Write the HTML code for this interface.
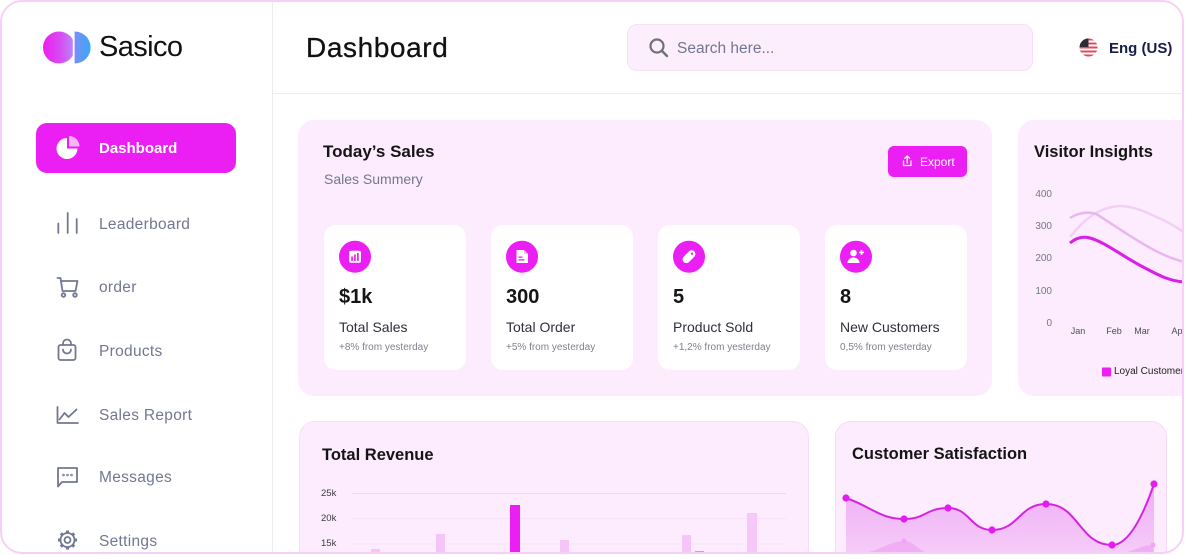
<!DOCTYPE html>
<html><head><meta charset="utf-8">
<style>
*{margin:0;padding:0;box-sizing:border-box}
html,body{width:1185px;height:555px;background:#fff;overflow:hidden}
body{font-family:"Liberation Sans",sans-serif;position:relative}
#frame{position:absolute;left:0;top:0;width:1184px;height:554px;border-radius:22px;overflow:hidden;background:#fff}
#border{position:absolute;left:0;top:0;width:1184px;height:554px;border-radius:22px;border:2px solid #f6d0f8;pointer-events:none;z-index:10}
.t{position:absolute;white-space:nowrap;z-index:5}
.card{position:absolute;background:#fcecfd;border-radius:16px}
.stat{position:absolute;background:#fff;border-radius:12px;top:225px;width:142px;height:145px}
.nav{font-size:15.5px;line-height:15.5px;color:#737791;left:99px;letter-spacing:0.3px}
.val{font-size:20px;line-height:20px;font-weight:bold;color:#151515;top:287.4px}
.lab{font-size:14px;line-height:14px;color:#2f2f3d;top:319.8px}
.sub{font-size:10px;line-height:10px;color:#808092;top:343.2px}
.h{font-size:16.5px;line-height:16.5px;font-weight:bold;color:#151515}
.yl{font-size:10px;line-height:10px;color:#737791;width:30px;text-align:right;left:1022px}
.xl{font-size:9px;line-height:9px;color:#464e5f;width:30px;text-align:center}
.rl{font-size:9.5px;line-height:9.5px;color:#3a3a48;left:321px}
</style></head>
<body>
<div id="frame">
  <div style="position:absolute;left:272px;top:0;width:1px;height:554px;background:#ebebf0"></div>
  <div style="position:absolute;left:272px;top:93px;width:912px;height:1px;background:#ededf2"></div>

  <div style="position:absolute;left:627px;top:24px;width:406px;height:47px;border-radius:10px;background:#fceefd;border:1px solid #f7e0f9"></div>

  <div style="position:absolute;left:36px;top:123px;width:200px;height:50px;border-radius:11px;background:#eb1ef4"></div>

  <div class="card" style="left:298px;top:120px;width:694px;height:276px"></div>
  <div class="stat" style="left:324px"></div>
  <div class="stat" style="left:491px"></div>
  <div class="stat" style="left:658px"></div>
  <div class="stat" style="left:825px"></div>
  <div class="card" style="left:1018px;top:120px;width:166px;height:276px;border-radius:16px 0 0 16px"></div>
  <div class="card" style="left:299px;top:421px;width:510px;height:133px;border:1px solid #f8e0fa;border-bottom:none;border-radius:16px 16px 0 0"></div>
  <div class="card" style="left:835px;top:421px;width:332px;height:133px;border:1px solid #f6dbf8;border-bottom:none;border-radius:16px 16px 0 0"></div>

  <div style="position:absolute;left:888px;top:146px;width:79px;height:31px;border-radius:6px;background:#eb1ef4"></div>

  <svg width="1184" height="554" style="position:absolute;left:0;top:0;z-index:3" xmlns="http://www.w3.org/2000/svg">
    <defs>
      <linearGradient id="lg1" x1="0" x2="1" y1="0" y2="0"><stop offset="0" stop-color="#ec1ef0"/><stop offset="0.55" stop-color="#d84cf2"/><stop offset="1" stop-color="#b48ef7"/></linearGradient>
      <linearGradient id="lg2" x1="0" x2="1" y1="0" y2="0"><stop offset="0" stop-color="#7a8df8"/><stop offset="1" stop-color="#3aa9f6"/></linearGradient>
      <linearGradient id="ga" x1="0" x2="0" y1="0" y2="1"><stop offset="0" stop-color="#eea6f4" stop-opacity="0.9"/><stop offset="1" stop-color="#f5c8f8" stop-opacity="0.9"/></linearGradient>
      <clipPath id="fc"><circle cx="1088.5" cy="47.5" r="9"/></clipPath>
    </defs>

    <circle cx="59" cy="47.5" r="16" fill="url(#lg1)"/>
    <rect x="72.8" y="30" width="1.8" height="35" fill="#fff"/>
    <path d="M74.6,31.5 A16,16 0 0 1 74.6,63.5 Z" fill="url(#lg2)"/>

    <circle cx="657" cy="46" r="6.5" fill="none" stroke="#6f6f80" stroke-width="2.2"/>
    <line x1="662" y1="51" x2="667" y2="56" stroke="#6f6f80" stroke-width="2.4" stroke-linecap="round"/>

    <g clip-path="url(#fc)">
      <rect x="1079" y="38" width="19" height="19" fill="#fff"/>
      <rect x="1079" y="38.5" width="19" height="2" fill="#e04a5a"/>
      <rect x="1079" y="42.5" width="19" height="2" fill="#e04a5a"/>
      <rect x="1079" y="46.5" width="19" height="2" fill="#e04a5a"/>
      <rect x="1079" y="50.5" width="19" height="2" fill="#e04a5a"/>
      <rect x="1079" y="54.5" width="19" height="2" fill="#e04a5a"/>
      <rect x="1079" y="38" width="9.5" height="9" fill="#2b2b35"/>
    </g>

    <path d="M67,148.5 L67,138 A10.5,10.5 0 1 0 77.5,148.5 Z" fill="#fff"/>
    <path d="M69,146.5 L69,136 A10.5,10.5 0 0 1 79.5,146.5 Z" fill="#f7b6fa"/>

    <g fill="none" stroke="#737791" stroke-width="1.8" stroke-linecap="round" stroke-linejoin="round">
      <line x1="58.3" y1="223.5" x2="58.3" y2="233"/>
      <line x1="67.7" y1="213" x2="67.7" y2="233"/>
      <line x1="76.7" y1="219" x2="76.7" y2="233"/>

      <path d="M57.5,278 H60.5 L62.5,291 H75.5 L77.5,281 H61"/>
      <circle cx="63.5" cy="295" r="1.8"/>
      <circle cx="75" cy="295" r="1.8"/>

      <rect x="58.5" y="345" width="17" height="15" rx="2"/>
      <path d="M63,345 V343.5 A4,4 0 0 1 71,343.5 V345"/>
      <path d="M63,349.5 A4,4 0 0 0 71,349.5"/>

      <path d="M57.5,407 V423 H78"/>
      <path d="M59.5,419.5 L64.5,413 L68.5,417 L76.5,409.5"/>

      <path d="M58,468 H77 V482 H62 L58,486.5 Z"/>
      <circle cx="63.5" cy="475" r="0.4" fill="#737791"/>
      <circle cx="67.5" cy="475" r="0.4" fill="#737791"/>
      <circle cx="71.5" cy="475" r="0.4" fill="#737791"/>

      <circle cx="67.5" cy="540" r="3"/>
      <circle cx="67.5" cy="540" r="7"/>
    </g>
    <g stroke="#737791" stroke-width="3" stroke-linecap="butt">
      <line x1="67.5" y1="530.5" x2="67.5" y2="533"/>
      <line x1="67.5" y1="547" x2="67.5" y2="549.5"/>
      <line x1="58" y1="540" x2="60.5" y2="540"/>
      <line x1="74.5" y1="540" x2="77" y2="540"/>
      <line x1="60.8" y1="533.3" x2="62.5" y2="535"/>
      <line x1="72.5" y1="545" x2="74.2" y2="546.7"/>
      <line x1="74.2" y1="533.3" x2="72.5" y2="535"/>
      <line x1="62.5" y1="545" x2="60.8" y2="546.7"/>
    </g>

    <g fill="none" stroke="#fff" stroke-width="1.3" stroke-linecap="round" stroke-linejoin="round">
      <path d="M903.5,161 V165.5 H911 V161"/>
      <path d="M907.2,163 V156 M904.8,158.3 L907.2,156 L909.6,158.3"/>
    </g>

    <circle cx="355" cy="256.7" r="16" fill="#eb1ef4"/>
    <rect x="349" y="250.7" width="12" height="12" rx="2" fill="#fff"/>
    <rect x="351.2" y="256.5" width="1.7" height="4.5" fill="#eb1ef4"/>
    <rect x="354.1" y="254.5" width="1.7" height="6.5" fill="#eb1ef4"/>
    <rect x="357" y="253" width="1.7" height="8" fill="#eb1ef4"/>

    <circle cx="522" cy="256.7" r="16" fill="#eb1ef4"/>
    <path d="M516.5,250 H524 L528,254 V263 H516.5 Z" fill="#fff"/>
    <path d="M524,250 V254 H528" fill="#f7b6fa"/>
    <rect x="518.5" y="256.5" width="4" height="1.3" fill="#eb1ef4"/>
    <rect x="518.5" y="259.2" width="6" height="1.3" fill="#eb1ef4"/>

    <circle cx="689" cy="256.7" r="16" fill="#eb1ef4"/>
    <rect x="-7.5" y="-3.8" width="15" height="7.6" rx="3.8" fill="#fff" transform="translate(689,256.7) rotate(-45)"/>
    <circle cx="692" cy="253.7" r="1.2" fill="#eb1ef4"/>

    <circle cx="856" cy="256.7" r="16" fill="#eb1ef4"/>
    <circle cx="853.5" cy="253" r="3.3" fill="#fff"/>
    <path d="M847.5,263 A6,5.5 0 0 1 859.5,263 Z" fill="#fff"/>
    <path d="M861.5,250 V255 M859,252.5 H864" stroke="#fff" stroke-width="1.6"/>

    <path d="M1070,237 C1085,218 1100,207 1120,206 C1135,206 1150,214 1165,221 C1173,225 1179,229 1184,232" fill="none" stroke="#f2cff5" stroke-width="2.5"/>
    <path d="M1070,218 C1078,213 1088,211 1096,214 C1110,222 1135,241 1160,253 C1170,258 1177,260 1184,262" fill="none" stroke="#ebb5f1" stroke-width="2.5"/>
    <path d="M1070,243 C1076,238 1082,236 1090,238 C1105,242 1125,258 1145,268 C1160,276 1170,281 1184,282" fill="none" stroke="#d91ee6" stroke-width="3"/>
    <rect x="1102" y="367.5" width="9" height="9" rx="1" fill="#eb1ef4"/>

    <line x1="352" y1="493.5" x2="786" y2="493.5" stroke="#f3d6f5" stroke-width="1"/>
    <line x1="352" y1="518.5" x2="786" y2="518.5" stroke="#f8e2f9" stroke-width="1"/>
    <line x1="352" y1="544" x2="786" y2="544" stroke="#f8e2f9" stroke-width="1"/>
    <rect x="371" y="549" width="9" height="5" fill="#f5c4f8"/>
    <rect x="436" y="534" width="9" height="20" fill="#f5c4f8"/>
    <rect x="510" y="505" width="10" height="49" fill="#eb1ef4"/>
    <rect x="560" y="540" width="9" height="14" fill="#f5c4f8"/>
    <rect x="682" y="535" width="9" height="19" fill="#f5c4f8"/>
    <rect x="695" y="551.5" width="9" height="2.5" fill="#eb1ef4"/>
    <rect x="747" y="513" width="10" height="41" fill="#f5c8f8"/>

    <path d="M846,498 C870,506 880,519 904,519 C926,519 926,508 948,508 C970,508 970,530 992,530 C1019,530 1019,504 1046,504 C1079,504 1079,545 1112,545 C1130,545 1145,510 1154,484 L1154,554 L846,554 Z" fill="url(#ga)"/>
    <path d="M846,554 L860,554 C880,551 890,541 904,541 C914,541 918,551 930,554 Z" fill="#eea4f4" opacity="0.7"/>
    <path d="M1120,554 C1135,551 1140,545 1153,545 L1154,554 Z" fill="#eea4f4" opacity="0.7"/>
    <circle cx="904" cy="541" r="2.5" fill="#f0a6f4"/>
    <circle cx="1153" cy="545" r="2.5" fill="#f0a6f4"/>
    <path d="M846,498 C870,506 880,519 904,519 C926,519 926,508 948,508 C970,508 970,530 992,530 C1019,530 1019,504 1046,504 C1079,504 1079,545 1112,545 C1130,545 1145,510 1154,484" fill="none" stroke="#d424e2" stroke-width="2"/>
    <g fill="#e21df0">
      <circle cx="846" cy="498" r="3.6"/>
      <circle cx="904" cy="519" r="3.6"/>
      <circle cx="948" cy="508" r="3.6"/>
      <circle cx="992" cy="530" r="3.6"/>
      <circle cx="1046" cy="504" r="3.6"/>
      <circle cx="1112" cy="545" r="3.6"/>
      <circle cx="1154" cy="484" r="3.6"/>
    </g>
  </svg>

  <div class="t" style="left:99px;top:32.8px;font-size:29px;line-height:29px;color:#111;letter-spacing:-0.6px">Sasico</div>
  <div class="t" style="left:306px;top:33.8px;font-size:28px;line-height:28px;color:#111;letter-spacing:0.6px;-webkit-text-stroke:0.3px #111">Dashboard</div>
  <div class="t" style="left:677px;top:40.5px;font-size:15.5px;line-height:15.5px;color:#737791">Search here...</div>
  <div class="t" style="left:1109px;top:40.6px;font-size:15px;line-height:15px;font-weight:bold;color:#151d48">Eng (US)</div>

  <div class="t" style="left:99px;top:141.3px;font-size:15px;line-height:15px;font-weight:bold;color:#fff">Dashboard</div>
  <div class="t nav" style="top:216.9px">Leaderboard</div>
  <div class="t nav" style="top:279.9px">order</div>
  <div class="t nav" style="top:343.6px">Products</div>
  <div class="t nav" style="top:407.6px">Sales Report</div>
  <div class="t nav" style="top:470.2px">Messages</div>
  <div class="t nav" style="top:533.6px">Settings</div>

  <div class="t" style="left:323px;top:142.9px;font-size:17px;line-height:17px;font-weight:bold;color:#151515">Today’s Sales</div>
  <div class="t" style="left:324px;top:172.1px;font-size:14px;line-height:14px;color:#737791">Sales Summery</div>
  <div class="t" style="left:920px;top:155.5px;font-size:12px;line-height:12px;color:#fff">Export</div>

  <div class="t val" style="left:339px">$1k</div>
  <div class="t lab" style="left:339px">Total Sales</div>
  <div class="t sub" style="left:339px">+8% from yesterday</div>

  <div class="t val" style="left:506px">300</div>
  <div class="t lab" style="left:506px">Total Order</div>
  <div class="t sub" style="left:506px">+5% from yesterday</div>

  <div class="t val" style="left:673px">5</div>
  <div class="t lab" style="left:673px">Product Sold</div>
  <div class="t sub" style="left:673px">+1,2% from yesterday</div>

  <div class="t val" style="left:840px">8</div>
  <div class="t lab" style="left:840px">New Customers</div>
  <div class="t sub" style="left:840px">0,5% from yesterday</div>

  <div class="t h" style="left:1034px;top:144.3px">Visitor Insights</div>
  <div class="t yl" style="top:190.1px">400</div>
  <div class="t yl" style="top:222.4px">300</div>
  <div class="t yl" style="top:254.1px">200</div>
  <div class="t yl" style="top:287.4px">100</div>
  <div class="t yl" style="top:319.4px">0</div>
  <div class="t xl" style="left:1063px;top:327.4px">Jan</div>
  <div class="t xl" style="left:1099px;top:327.4px">Feb</div>
  <div class="t xl" style="left:1127px;top:327.4px">Mar</div>
  <div class="t" style="left:1171.5px;top:327.4px;font-size:9px;line-height:9px;color:#464e5f">Apr</div>
  <div class="t" style="left:1114px;top:366.8px;font-size:10px;line-height:10px;color:#222">Loyal Customers</div>

  <div class="t h" style="left:322px;top:446.7px">Total Revenue</div>
  <div class="t rl" style="top:488.7px">25k</div>
  <div class="t rl" style="top:514.1px">20k</div>
  <div class="t rl" style="top:539.4px">15k</div>

  <div class="t h" style="left:852px;top:446px">Customer Satisfaction</div>
</div>
<div id="border"></div>
</body></html>
